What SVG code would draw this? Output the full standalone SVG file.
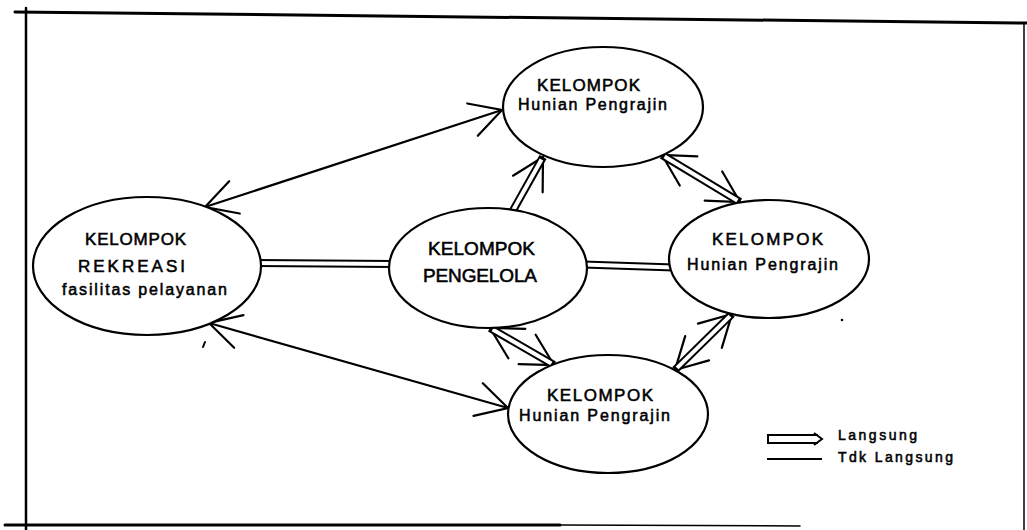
<svg xmlns="http://www.w3.org/2000/svg" width="1027" height="530" viewBox="0 0 1027 530">
  <style>
    .frame { fill: none; stroke: #000; stroke-linecap: round; }
    .node { fill: #fff; stroke: #000; stroke-width: 2.2; }
    .single { fill: none; stroke: #000; stroke-width: 2.2; stroke-linecap: round; }
    .dblOuter { fill: none; stroke: #000; stroke-width: 8; stroke-linecap: butt; }
    .dblInner { fill: none; stroke: #fff; stroke-width: 4; stroke-linecap: butt; }
    .lbl { font-family: "Liberation Sans", Arial, sans-serif; fill: #000; stroke: #000; stroke-width: 0.55; }
    .cap { font-size: 17px; }
    .sub { font-size: 16px; }
    .leg { font-size: 14px; }
  </style>
  <defs>
    <marker id="vhead" viewBox="-36 -22 40 44" markerWidth="40" markerHeight="44" refX="0" refY="0" orient="auto-start-reverse" markerUnits="userSpaceOnUse">
      <path d="M-31,-17 L0,0 L-31,17" fill="none" stroke="#000" stroke-width="2.2" stroke-linecap="round" stroke-linejoin="miter"/>
    </marker>
  </defs>

  <rect width="1027" height="530" fill="#fff"/>

  <!-- outer frame -->
  <g id="frame">
    <path class="frame" d="M15,12 L1027,23" stroke-width="3"/>
    <path class="frame" d="M26,8 L26,530" stroke-width="2.5"/>
    <path class="frame" d="M5,525 L560,525" stroke-width="3"/>
    <path class="frame" d="M560,525 L800,526" stroke-width="1.5" stroke="#888"/>
    <path class="frame" d="M1024,24 L1024,530" stroke-width="1.5"/>
  </g>

  <!-- connectors -->
  <g id="connectors">
    <!-- indirect links -->
    <path class="single" d="M205,207 L502,110" marker-start="url(#vhead)" marker-end="url(#vhead)"/>
    <path class="single" d="M209,323 L508,408" marker-start="url(#vhead)" marker-end="url(#vhead)"/>

    <!-- direct links -->
    <path class="dblOuter" d="M255,263 L394,264"/>
    <path class="dblInner" d="M255,263 L394,264"/>

    <path class="dblOuter" d="M583,264.5 L674,267.5"/>
    <path class="dblInner" d="M583,264.5 L674,267.5"/>

    <path class="dblOuter" d="M511,214 L543,157" marker-end="url(#vhead)"/>
    <path class="dblInner" d="M511,214 L541.5,159.6"/>

    <path class="dblOuter" d="M662,155 L740,202" marker-start="url(#vhead)" marker-end="url(#vhead)"/>
    <path class="dblInner" d="M664.6,156.5 L737.4,200.5"/>

    <path class="dblOuter" d="M490,328 L554,365" marker-start="url(#vhead)" marker-end="url(#vhead)"/>
    <path class="dblInner" d="M492.6,329.5 L551.4,363.5"/>

    <path class="dblOuter" d="M732,314 L675,370" marker-start="url(#vhead)" marker-end="url(#vhead)"/>
    <path class="dblInner" d="M729.9,316.1 L677.1,367.9"/>
  </g>

  <!-- nodes -->
  <g id="rekreasi">
    <ellipse class="node" cx="147" cy="266" rx="114" ry="69"/>
    <text class="lbl cap" x="85" y="245" textLength="101" lengthAdjust="spacing">KELOMPOK</text>
    <text class="lbl cap" x="78" y="272" textLength="107" lengthAdjust="spacing">REKREASI</text>
    <text class="lbl sub" x="62" y="295" textLength="165" lengthAdjust="spacing">fasilitas pelayanan</text>
  </g>

  <g id="pengelola">
    <ellipse class="node" cx="488" cy="268" rx="99" ry="60"/>
    <text class="lbl" font-size="19" x="428" y="255" textLength="107" lengthAdjust="spacing">KELOMPOK</text>
    <text class="lbl" font-size="19" x="423" y="282" textLength="114" lengthAdjust="spacing">PENGELOLA</text>
  </g>

  <g id="hunian-atas">
    <ellipse class="node" cx="603" cy="107" rx="100" ry="60"/>
    <text class="lbl cap" x="537" y="91" textLength="103" lengthAdjust="spacing">KELOMPOK</text>
    <text class="lbl sub" x="518" y="110" textLength="149" lengthAdjust="spacing">Hunian Pengrajin</text>
  </g>

  <g id="hunian-kanan">
    <ellipse class="node" cx="769" cy="259" rx="100" ry="59"/>
    <text class="lbl cap" x="712" y="245" textLength="111" lengthAdjust="spacing">KELOMPOK</text>
    <text class="lbl sub" x="687" y="270" textLength="151" lengthAdjust="spacing">Hunian Pengrajin</text>
  </g>

  <g id="hunian-bawah">
    <ellipse class="node" cx="608" cy="414" rx="100" ry="59"/>
    <text class="lbl cap" x="547" y="401" textLength="106" lengthAdjust="spacing">KELOMPOK</text>
    <text class="lbl sub" x="519" y="421" textLength="151" lengthAdjust="spacing">Hunian Pengrajin</text>
  </g>

  <!-- legend -->
  <g id="legend">
    <path d="M768,435 L818,435 M768,443 L818,443 M768,434 L768,444" fill="none" stroke="#000" stroke-width="2"/>
    <path d="M814,433 L822,439 L814,445" fill="none" stroke="#000" stroke-width="2"/>
    <text class="lbl leg" x="838" y="440" textLength="79" lengthAdjust="spacing">Langsung</text>
    <path d="M767,459 L822,459" fill="none" stroke="#000" stroke-width="2.2"/>
    <text class="lbl leg" x="838" y="462" textLength="115" lengthAdjust="spacing">Tdk Langsung</text>
  </g>

  <!-- small marks -->
  <g id="marks">
    <path d="M203,347 L205,342" fill="none" stroke="#000" stroke-width="2" stroke-linecap="round"/>
    <circle cx="842" cy="320" r="1.3" fill="#000"/>
  </g>
</svg>
